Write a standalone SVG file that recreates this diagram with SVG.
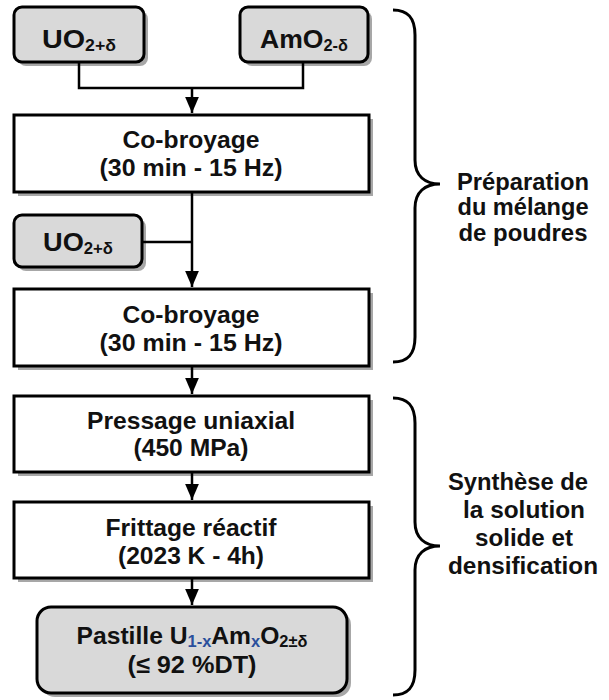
<svg xmlns="http://www.w3.org/2000/svg" width="609" height="700" viewBox="0 0 609 700">
<style>
  .box{fill:#ffffff;stroke:#000;stroke-width:3}
  .gbox{fill:#d9d9d9;stroke:#000;stroke-width:3}
  .sh{fill:#8a8a8a;opacity:0.75}
  .t{font-family:"Liberation Sans",Arial,sans-serif;font-weight:bold;font-size:24px;fill:#111;text-anchor:middle}
  .big{font-size:26px}
  .side{font-family:"Liberation Sans",Arial,sans-serif;font-weight:bold;font-size:24px;fill:#111;text-anchor:middle}
  .sub{font-size:16px}
  .blue{fill:#2a4f9c}
  .conn{fill:none;stroke:#000;stroke-width:2.5}
  .brace{fill:none;stroke:#000;stroke-width:3}
</style>
<defs>
  <marker id="arr" markerUnits="userSpaceOnUse" markerWidth="16" markerHeight="14" refX="14" refY="6" orient="auto" viewBox="0 0 14 12">
    <path d="M0 0 L14 6 L0 12 Z" fill="#000"/>
  </marker>
</defs>

<g id="uo2-a">
  <rect class="sh" x="18" y="11" width="130" height="55" rx="8"/>
  <rect class="gbox" x="14" y="7" width="130" height="55" rx="8"/>
  <text class="t big" x="79" y="48" textLength="74" lengthAdjust="spacingAndGlyphs">UO<tspan class="sub" dy="3">2+δ</tspan></text>
</g>
<g id="amo2">
  <rect class="sh" x="244" y="11" width="128" height="55" rx="8"/>
  <rect class="gbox" x="240" y="7" width="128" height="55" rx="8"/>
  <text class="t big" x="304" y="48" textLength="88" lengthAdjust="spacingAndGlyphs">AmO<tspan class="sub" dy="3">2-δ</tspan></text>
</g>
<g id="cobroyage-1">
  <rect class="sh" x="18" y="119" width="355" height="77"/>
  <rect class="box" x="14" y="115" width="355" height="77"/>
  <text class="t" x="191" y="148" textLength="137" lengthAdjust="spacingAndGlyphs">Co-broyage</text>
  <text class="t" x="191" y="176" textLength="183" lengthAdjust="spacingAndGlyphs">(30 min - 15 Hz)</text>
</g>
<g id="uo2-b">
  <rect class="sh" x="18" y="219" width="128" height="52" rx="8"/>
  <rect class="gbox" x="14" y="215" width="128" height="52" rx="8"/>
  <text class="t big" x="78" y="251" textLength="70" lengthAdjust="spacingAndGlyphs">UO<tspan class="sub" dy="3">2+δ</tspan></text>
</g>
<g id="cobroyage-2">
  <rect class="sh" x="18" y="293" width="355" height="77"/>
  <rect class="box" x="14" y="289" width="355" height="77"/>
  <text class="t" x="191" y="323" textLength="137" lengthAdjust="spacingAndGlyphs">Co-broyage</text>
  <text class="t" x="191" y="351" textLength="183" lengthAdjust="spacingAndGlyphs">(30 min - 15 Hz)</text>
</g>
<g id="pressage">
  <rect class="sh" x="18" y="400" width="355" height="76"/>
  <rect class="box" x="14" y="396" width="355" height="76"/>
  <text class="t" x="191" y="429" textLength="208" lengthAdjust="spacingAndGlyphs">Pressage uniaxial</text>
  <text class="t" x="191" y="456" textLength="115" lengthAdjust="spacingAndGlyphs">(450 MPa)</text>
</g>
<g id="frittage">
  <rect class="sh" x="18" y="506" width="355" height="76"/>
  <rect class="box" x="14" y="502" width="355" height="76"/>
  <text class="t" x="191" y="536" textLength="171" lengthAdjust="spacingAndGlyphs">Frittage réactif</text>
  <text class="t" x="191" y="564" textLength="146" lengthAdjust="spacingAndGlyphs">(2023 K - 4h)</text>
</g>
<g id="pastille">
  <rect class="sh" x="41" y="611" width="310" height="86" rx="14"/>
  <rect class="gbox" x="37" y="607" width="310" height="86" rx="14"/>
  <text class="t" x="192" y="644" textLength="231" lengthAdjust="spacingAndGlyphs">Pastille U<tspan class="sub blue" dy="3">1-x</tspan><tspan dy="-3">Am</tspan><tspan class="sub blue" dy="3">x</tspan><tspan dy="-3">O</tspan><tspan class="sub" dy="3">2±δ</tspan></text>
  <text class="t" x="192" y="673" textLength="129" lengthAdjust="spacingAndGlyphs">(≤ 92 %DT)</text>
</g>

<g id="connectors">
  <path class="conn" d="M79 62 V88 H303 V62"/>
  <path class="conn" d="M192 88 V113" marker-end="url(#arr)"/>
  <path class="conn" d="M192 192 V287" marker-end="url(#arr)"/>
  <path class="conn" d="M142 242 H192"/>
  <path class="conn" d="M192 366 V394" marker-end="url(#arr)"/>
  <path class="conn" d="M192 472 V500" marker-end="url(#arr)"/>
  <path class="conn" d="M192 578 V605" marker-end="url(#arr)"/>
</g>

<g id="brace-preparation">
  <path class="brace" d="M393 10 C408 10 415 18 415 35 V160 C415 176 425 184 440 184 C425 184 415 192 415 208 V337 C415 354 408 362 393 362"/>
  <text class="side" x="523" y="190" textLength="132" lengthAdjust="spacingAndGlyphs">Préparation</text>
  <text class="side" x="523" y="215" textLength="131" lengthAdjust="spacingAndGlyphs">du mélange</text>
  <text class="side" x="523" y="241" textLength="129" lengthAdjust="spacingAndGlyphs">de poudres</text>
</g>
<g id="brace-synthese">
  <path class="brace" d="M393 398 C408 398 415 406 415 423 V522 C415 538 425 546 440 546 C425 546 415 554 415 570 V670 C415 687 408 695 393 695"/>
  <text class="side" x="518" y="490" textLength="140" lengthAdjust="spacingAndGlyphs">Synthèse de</text>
  <text class="side" x="524" y="518" textLength="122" lengthAdjust="spacingAndGlyphs">la solution</text>
  <text class="side" x="524" y="546" textLength="98" lengthAdjust="spacingAndGlyphs">solide et</text>
  <text class="side" x="523" y="574" textLength="150" lengthAdjust="spacingAndGlyphs">densification</text>
</g>
</svg>
